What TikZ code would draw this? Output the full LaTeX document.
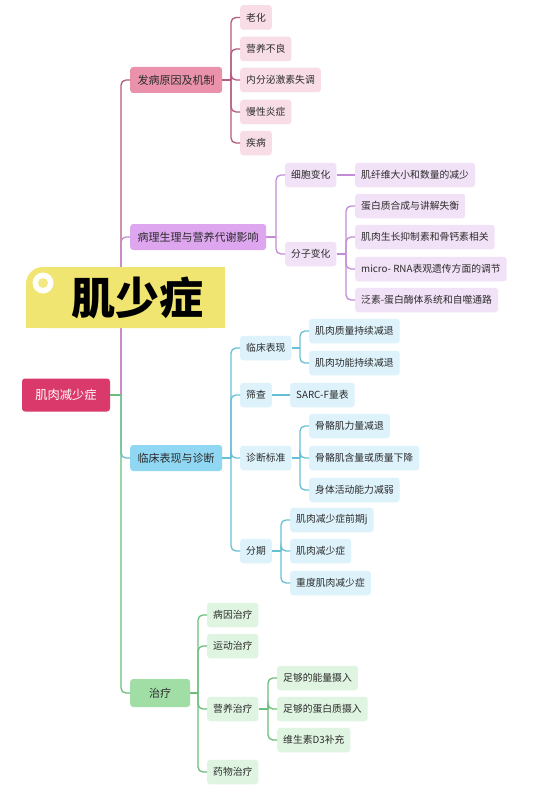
\documentclass[tikz,border=0pt]{standalone}
\usepackage{fontspec}
\newfontfamily\cjk{Noto Sans CJK SC}
\usetikzlibrary{calc}
\definecolor{rootc}{HTML}{D93A6B}
\definecolor{txt}{HTML}{2B2B2B}
\definecolor{faC}{HTML}{EA92AC}
\definecolor{faL}{HTML}{B55A7E}
\definecolor{faS}{HTML}{F8DDE6}
\definecolor{blC}{HTML}{DDA6EE}
\definecolor{blL}{HTML}{C48BD8}
\definecolor{blS}{HTML}{F2E2F7}
\definecolor{lcC}{HTML}{8FD7F3}
\definecolor{lcL}{HTML}{67BFD6}
\definecolor{lcS}{HTML}{DDF2FB}
\definecolor{zlC}{HTML}{A0DEA6}
\definecolor{zlL}{HTML}{6CBE7C}
\definecolor{zlS}{HTML}{DFF4E1}
\definecolor{banner}{HTML}{F0E570}
\tikzset{
  rootbox/.style={fill=rootc, text=white, rounded corners=3, font=\cjk\fontsize{12.3}{14}\selectfont, minimum width=88, minimum height=33, inner sep=0},
  lone/.style={rounded corners=3, font=\cjk\fontsize{11}{13}\selectfont, text=txt, minimum height=26, inner xsep=7.5, inner ysep=0, anchor=west},
  leaf/.style={rounded corners=3, font=\cjk\fontsize{9.8}{12}\selectfont, text=txt, minimum height=24.5, inner xsep=6, inner ysep=0, anchor=west},
  link/.style={line width=1.3pt, rounded corners=5},
}
\newcommand\mmlink[3]{%
  \coordinate (tmpj) at ($(#1.east -| #2.west)+(-9,0)$);
  \draw[link,#3] (#1.east) -- (tmpj);
  \draw[link,#3] (tmpj) |- (#2.west);
}
\newcommand\mmstraight[3]{%
  \draw[link,#3] (#1.east) -- (#2.west);
}
\begin{document}
\begin{tikzpicture}[x=1pt,y=-1pt]
\useasboundingbox (0,0) rectangle (540,789);
\fill[white] (0,0) rectangle (540,789);
% root
\node[rootbox] (root) at (66,395) {肌肉减少症};
% level 1
\node[lone, fill=faC] (fa) at (130,80) {发病原因及机制};
\node[lone, fill=blC] (bl) at (130,237) {病理生理与营养代谢影响};
\node[lone, fill=lcC] (lc) at (130,458) {临床表现与诊断};
\node[lone, fill=zlC, minimum width=60, minimum height=28] (zl) at (130,693) {治疗};
% fa children
\node[leaf, fill=faS] (fa1) at (240,17.5) {老化};
\node[leaf, fill=faS] (fa2) at (240,49) {营养不良};
\node[leaf, fill=faS] (fa3) at (240,80) {内分泌激素失调};
\node[leaf, fill=faS] (fa4) at (240,112) {慢性炎症};
\node[leaf, fill=faS] (fa5) at (240,143) {疾病};
% bl children
\node[leaf, fill=blS] (xb) at (285,175) {细胞变化};
\node[leaf, fill=blS] (fz) at (285,254) {分子变化};
\node[leaf, fill=blS] (xb1) at (355,175) {肌纤维大小和数量的减少};
\node[leaf, fill=blS] (fz1) at (355,206) {蛋白质合成与讲解失衡};
\node[leaf, fill=blS] (fz2) at (355,237) {肌肉生长抑制素和骨钙素相关};
\node[leaf, fill=blS] (fz3) at (355,269) {micro- RNA表观遗传方面的调节};
\node[leaf, fill=blS] (fz4) at (355,300) {泛素-蛋白酶体系统和自噬通路};
% lc children
\node[leaf, fill=lcS] (bx) at (240,348) {临床表现};
\node[leaf, fill=lcS] (sc) at (240,395) {筛查};
\node[leaf, fill=lcS] (zd) at (240,458) {诊断标准};
\node[leaf, fill=lcS] (fq) at (240,551) {分期};
\node[leaf, fill=lcS] (bx1) at (309,331) {肌肉质量持续减退};
\node[leaf, fill=lcS] (bx2) at (309,363) {肌肉功能持续减退};
\node[leaf, fill=lcS] (sc1) at (290,395) {SARC-F量表};
\node[leaf, fill=lcS] (zd1) at (309,426) {骨骼肌力量减退};
\node[leaf, fill=lcS] (zd2) at (309,458) {骨骼肌含量或质量下降};
\node[leaf, fill=lcS] (zd3) at (309,490) {身体活动能力减弱};
\node[leaf, fill=lcS] (fq1) at (290,520) {肌肉减少症前期j};
\node[leaf, fill=lcS] (fq2) at (290,551) {肌肉减少症};
\node[leaf, fill=lcS] (fq3) at (290,583) {重度肌肉减少症};
% zl children
\node[leaf, fill=zlS] (zl1) at (207,615) {病因治疗};
\node[leaf, fill=zlS] (zl2) at (207,646) {运动治疗};
\node[leaf, fill=zlS] (yy) at (207,709) {营养治疗};
\node[leaf, fill=zlS] (zl4) at (207,772) {药物治疗};
\node[leaf, fill=zlS] (yy1) at (277,678) {足够的能量摄入};
\node[leaf, fill=zlS] (yy2) at (277,709) {足够的蛋白质摄入};
\node[leaf, fill=zlS] (yy3) at (277,740) {维生素D3补充};
% links
\mmlink{root}{fa}{faL}
\mmlink{root}{bl}{blL}
\mmlink{root}{lc}{lcL}
\mmlink{root}{zl}{zlL}
\foreach \c in {fa1,fa2,fa3,fa4,fa5}{\mmlink{fa}{\c}{faL}}
\foreach \c in {xb,fz}{\mmlink{bl}{\c}{blL}}
\mmstraight{xb}{xb1}{blL}
\foreach \c in {fz1,fz2,fz3,fz4}{\mmlink{fz}{\c}{blL}}
\foreach \c in {bx,sc,zd,fq}{\mmlink{lc}{\c}{lcL}}
\foreach \c in {bx1,bx2}{\mmlink{bx}{\c}{lcL}}
\mmstraight{sc}{sc1}{lcL}
\foreach \c in {zd1,zd2,zd3}{\mmlink{zd}{\c}{lcL}}
\foreach \c in {fq1,fq2,fq3}{\mmlink{fq}{\c}{lcL}}
\foreach \c in {zl1,zl2,yy,zl4}{\mmlink{zl}{\c}{zlL}}
\foreach \c in {yy1,yy2,yy3}{\mmlink{yy}{\c}{zlL}}
% banner
\fill[banner, rounded corners=17] (26,267) rectangle (225,328);
\fill[banner] (26,290) rectangle (225,328);
\fill[banner] (50,267) rectangle (225,328);
\fill[white] (43,283) circle[radius=10.5];
\fill[banner!85!white] (43,283) circle[radius=5];
\node[font=\cjk\bfseries\fontsize{44}{48}\selectfont, text=black, inner sep=0] (title) at (137.5,298) {肌少症};
\end{tikzpicture}
\end{document}
